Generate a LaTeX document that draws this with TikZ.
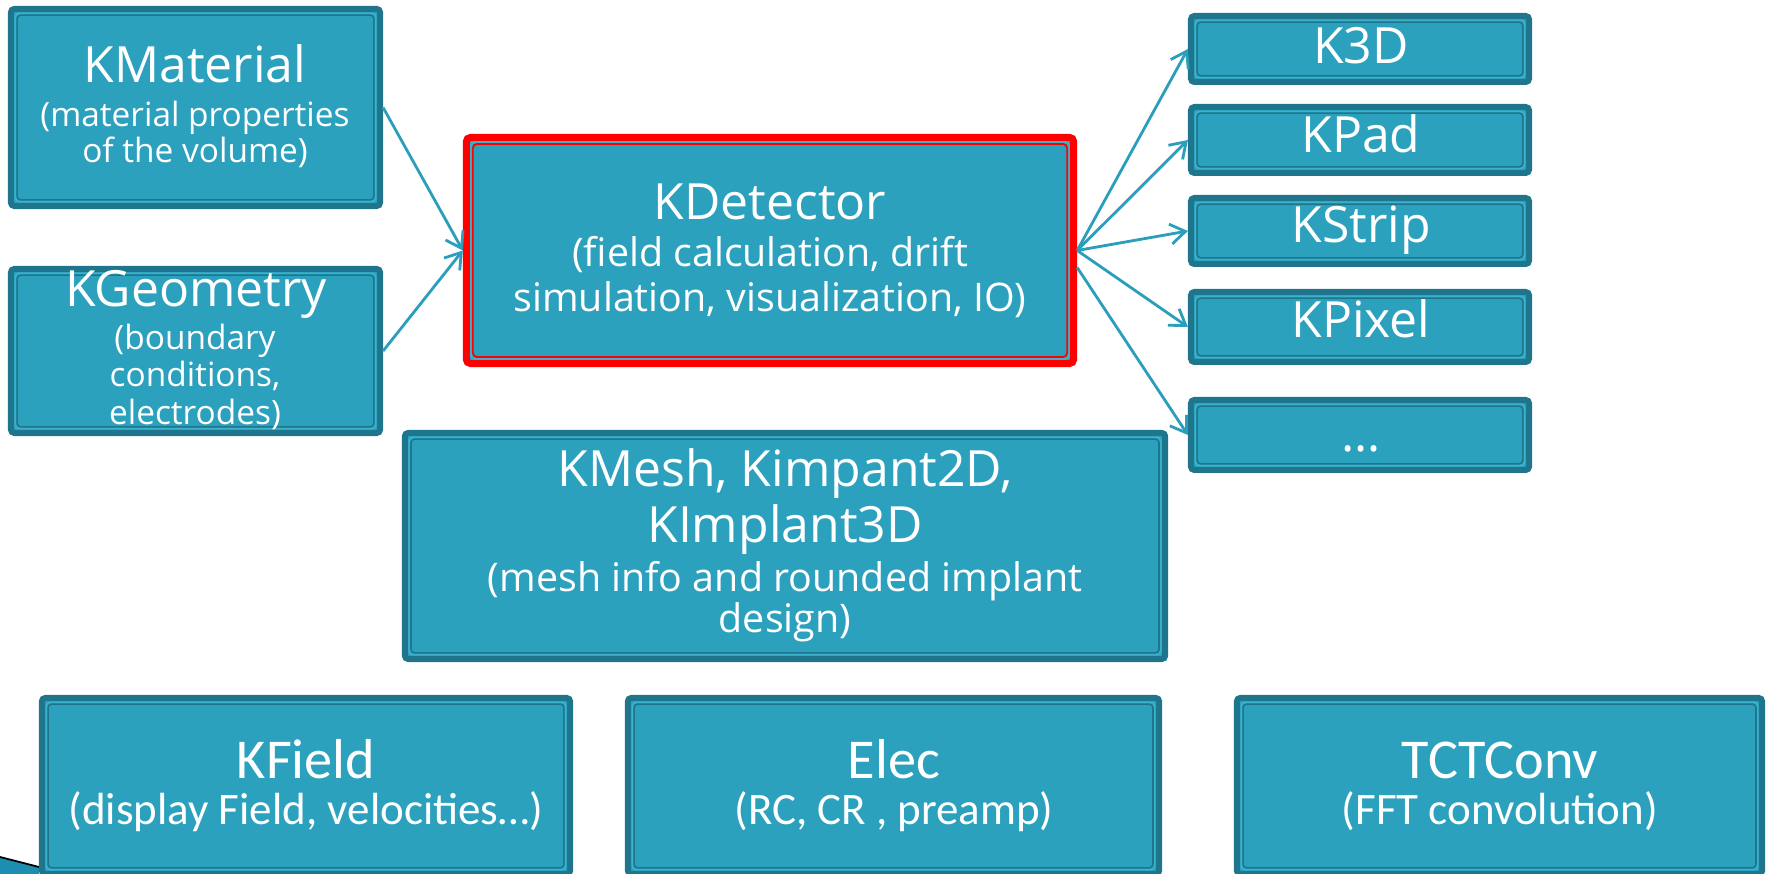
\documentclass[tikz,border=0pt]{standalone}
\usepackage{fontspec}
\setmainfont{Open Sans}
\newfontfamily\narrowfont{Carlito}
\usetikzlibrary{arrows.meta}
\definecolor{kfill}{HTML}{2CA1BE}
\definecolor{kdark}{HTML}{1F768C}
\definecolor{klight}{HTML}{3AB2CD}
\definecolor{karrow}{HTML}{2A9EBB}
\definecolor{kblob}{HTML}{1E8DB2}
\tikzset{
  kbox/.style={rectangle, rounded corners=1pt, fill=kfill, draw=kdark, line width=1.7pt, inner sep=0pt,
    path picture={
      \draw[klight, line width=0.45pt] ([shift={(0.045cm,-0.045cm)}]path picture bounding box.north west) rectangle ([shift={(-0.045cm,0.045cm)}]path picture bounding box.south east);
      \draw[kdark, line width=0.45pt] ([shift={(0.062cm,-0.062cm)}]path picture bounding box.north west) rectangle ([shift={(-0.062cm,0.062cm)}]path picture bounding box.south east);
    }},
  redbox/.style={rectangle, rounded corners=1.2pt, fill=kfill, draw=red, line width=2pt, inner sep=0pt,
    path picture={
      \draw[klight, line width=0.55pt] ([shift={(0.045cm,-0.045cm)}]path picture bounding box.north west) rectangle ([shift={(-0.045cm,0.045cm)}]path picture bounding box.south east);
      \draw[red, line width=0.5pt] ([shift={(0.065cm,-0.065cm)}]path picture bounding box.north west) rectangle ([shift={(-0.065cm,0.065cm)}]path picture bounding box.south east);
    }},
  ttl/.style={text=white, inner sep=0pt, anchor=base, font=\fontsize{14.2}{17}\selectfont},
  sub/.style={text=white, inner sep=0pt, anchor=base, font=\fontsize{9.5}{11}\selectfont},
  subm/.style={text=white, inner sep=0pt, anchor=base, font=\fontsize{11.2}{13}\selectfont},
  nttl/.style={text=white, inner sep=0pt, anchor=base, font=\narrowfont\fontsize{16}{19}\selectfont},
  nsub/.style={text=white, inner sep=0pt, anchor=base, font=\narrowfont\fontsize{12.8}{15}\selectfont},
  feed/.style={draw=karrow, line width=0.8pt, ->},
  >={Straight Barb[length=0.15cm, width=0.2cm, line width=0.8pt]}
}
\begin{document}
\begin{tikzpicture}[x=0.01cm, y=-0.01cm]
  \useasboundingbox (0,0) rectangle (1766,874);

  % left column
  \node[kbox, minimum width=3.69cm, minimum height=1.97cm] (kmat) at (195.5,107.5) {};
  \node[ttl] (matT) at (195,83) {KMaterial};
  \node[sub] (matS1) at (195,127) {(material properties};
  \node[sub] (matS2) at (195,163) {of the volume)};

  \node[kbox, minimum width=3.69cm, minimum height=1.64cm] (kgeo) at (195.5,351) {};
  \node[ttl] (geoT) at (196,307) {KGeometry};
  \node[sub] (geoS1) at (195,350) {(boundary};
  \node[sub] (geoS2) at (195,387) {conditions,};
  \node[sub] (geoS3) at (195,425) {electrodes)};

  % detector
  \node[redbox, minimum width=6.07cm, minimum height=2.26cm] (kdet) at (770,250.5) {};
  \node[ttl] (detT) at (770,220) {KDetector};
  \node[subm] (detS1) at (770,267) {(field calculation, drift};
  \node[subm] (detS2) at (770,312) {simulation, visualization, IO)};

  % right column
  \node[kbox, minimum width=3.38cm, minimum height=0.66cm] (k3d) at (1360,49) {};
  \node[ttl] (k3dT) at (1361,64) {K3D};
  \node[kbox, minimum width=3.38cm, minimum height=0.66cm] (kpad) at (1360,140) {};
  \node[ttl] (kpadT) at (1361,153) {KPad};
  \node[kbox, minimum width=3.38cm, minimum height=0.66cm] (kstrip) at (1360,231) {};
  \node[ttl] (kstripT) at (1361,243) {KStrip};
  \node[kbox, minimum width=3.38cm, minimum height=0.70cm] (kpixel) at (1360,327) {};
  \node[ttl] (kpixelT) at (1361,338) {KPixel};
  \node[kbox, minimum width=3.38cm, minimum height=0.70cm] (kdots) at (1360,435) {};
  \node[ttl] (kdotsT) at (1361,452) {\dots};

  % mesh
  \node[kbox, minimum width=7.60cm, minimum height=2.26cm] (kmesh) at (785,546) {};
  \node[ttl] (meshT1) at (785,487) {KMesh, Kimpant2D,};
  \node[ttl] (meshT2) at (785,543) {KImplant3D};
  \node[subm] (meshS1) at (785,592) {(mesh info and rounded implant};
  \node[subm] (meshS2) at (785,633) {design)};

  % bottom row
  \fill[kblob] (0,857) -- (39,867) -- (39,874) -- (0,874) -- cycle;
  \draw[black, line width=0.5pt] (0,857) -- (39,867);
  \node[kbox, minimum width=5.28cm, minimum height=1.76cm] (kfield) at (306,786) {};
  \node[nttl] (fieldT) at (306,779) {KField};
  \node[nsub] (fieldS) at (306,825) {(display Field, velocities\dots)};
  \node[kbox, minimum width=5.31cm, minimum height=1.76cm] (kelec) at (893.5,786) {};
  \node[nttl] (elecT) at (894,779) {Elec};
  \node[nsub] (elecS) at (894,825) {(RC, CR , preamp)};
  \node[kbox, minimum width=5.25cm, minimum height=1.76cm] (ktct) at (1499.5,786) {};
  \node[nttl] (tctT) at (1500,779) {TCTConv};
  \node[nsub] (tctS) at (1500,825) {(FFT convolution)};

  % arrows
  \coordinate (kdetlow) at ([yshift=-0.17cm]kdet.east);
  \draw[feed] (kmat.east) -- (kdet.west);
  \draw[feed] (kgeo.east) -- (kdet.west);
  \draw[feed] (kdet.east) -- (k3d.west);
  \draw[feed] (kdet.east) -- (kpad.west);
  \draw[feed] (kdet.east) -- (kstrip.west);
  \draw[feed] (kdet.east) -- (kpixel.west);
  \draw[feed] (kdetlow) -- (kdots.west);
\end{tikzpicture}
\end{document}
